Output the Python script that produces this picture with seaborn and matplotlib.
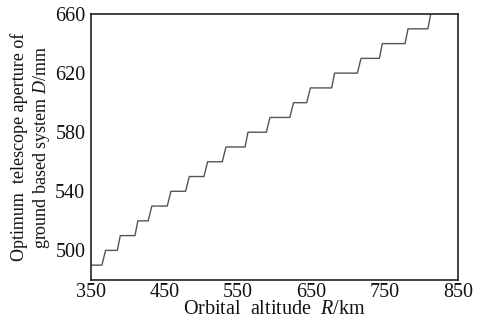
import matplotlib
matplotlib.use("Agg")
import matplotlib.pyplot as plt
import seaborn as sns
import numpy as np
import pandas as pd

# Step levels of optimum aperture D (mm) and the altitudes R (km) where each rise starts/ends
D_levels = [490, 500, 510, 520, 530, 540, 550, 560, 570, 580, 590, 600, 610, 620, 630, 640, 650, 660]
R_rise_start = [365, 386, 410, 428, 454, 479, 504, 529, 560, 589, 621, 644, 678, 713, 743, 778, 809]
R_rise_end = [370, 390, 414, 433, 459, 484, 509, 534, 564, 594, 626, 649, 682, 718, 747, 782, 813]
R_min, R_max = 350, 850

xticks = [350, 450, 550, 650, 750, 850]
yticks = [500, 540, 580, 620, 660]

# build polyline of the staircase
R_pts = [R_min]
D_pts = [D_levels[0]]
for i in range(len(R_rise_start)):
    R_pts += [R_rise_start[i], R_rise_end[i]]
    D_pts += [D_levels[i], D_levels[i + 1]]
df = pd.DataFrame({"R": R_pts, "D": D_pts})

sns.set_theme(style="white")
plt.rcParams["font.family"] = ["Liberation Serif", "DejaVu Serif"]
plt.rcParams["mathtext.fontset"] = "custom"
plt.rcParams["mathtext.it"] = "Liberation Serif:italic"
plt.rcParams["mathtext.rm"] = "Liberation Serif"

fig = plt.figure(figsize=(4.81, 3.27), dpi=100)
ax = fig.add_axes([0.189, 0.144, 0.763, 0.813])
sns.lineplot(data=df, x="R", y="D", sort=False, color="#555555", linewidth=1.0, ax=ax)

ax.set_xlim(350, 850)
ax.set_ylim(480, 660)
ax.set_xticks(xticks)
ax.set_yticks(yticks)
ax.set_xticklabels([str(v) for v in xticks], fontsize=14.5)
ax.set_yticklabels([str(v) for v in yticks], fontsize=14.5)
ax.tick_params(axis="x", direction="in", length=4, width=1, color="#222222", pad=2)
ax.tick_params(axis="y", direction="out", length=3, width=1, color="#222222", pad=1)
ax.tick_params(axis="both", colors="#222222", labelcolor="#111111")
for s in ax.spines.values():
    s.set_color("#222222")
    s.set_linewidth(1.2)

ax.set_xlabel(r"Orbital  altitude  $\it{R}$/km", fontsize=14.5, labelpad=-1, color="#111111")
ax.set_ylabel("Optimum  telescope aperture of\n" + r"ground based system $\it{D}$/mm",
              fontsize=13, labelpad=2, color="#111111", linespacing=1.2)

fig.savefig("out.png", dpi=100)
